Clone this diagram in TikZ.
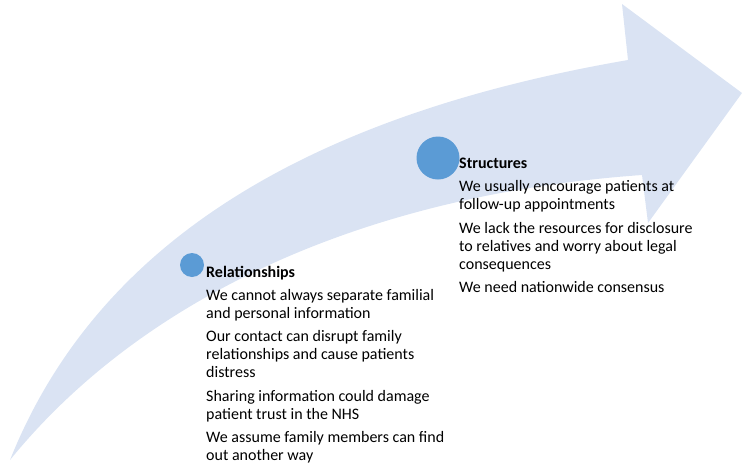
\documentclass[tikz,border=0pt]{standalone}
\usepackage{fontspec}
\setmainfont{Carlito}
\definecolor{arrowfill}{HTML}{DAE3F3}
\definecolor{dotblue}{HTML}{5B9BD5}
\begin{document}
\begin{tikzpicture}[x=1pt,y=-1pt,
  dot/.style={circle,fill=dotblue,draw=none,inner sep=0pt},
  block/.style={anchor=north west,inner sep=0pt,align=left,
    font=\fontsize{16}{18}\selectfont,text=black}]
\useasboundingbox (0,0) rectangle (750,466);
\fill[arrowfill] (10,460) .. controls (90,260) and (280,120) .. (628,60)
  -- (622,4) -- (742,93) -- (648,223) -- (642,175)
  .. controls (360,195) and (140,300) .. (10,460) -- cycle;
\node[dot,minimum size=24pt] (reldot) at (192,265) {};
\node[dot,minimum size=43pt] (strdot) at (438,158) {};
\node[block] (reltext) at (206,266) {\textbf{Relationships}\\[5pt]
We cannot always separate familial\\
and personal information\\[5.5pt]
Our contact can disrupt family\\
relationships and cause patients\\
distress\\[5.5pt]
Sharing information could damage\\
patient trust in the NHS\\[5.5pt]
We assume family members can find\\
out another way};
\node[block] (strtext) at (459,158) {\textbf{Structures}\\[5pt]
We usually encourage patients at\\
follow-up appointments\\[5.5pt]
We lack the resources for disclosure\\
to relatives and worry about legal\\
consequences\\[5.5pt]
We need nationwide consensus};
\end{tikzpicture}
\end{document}
